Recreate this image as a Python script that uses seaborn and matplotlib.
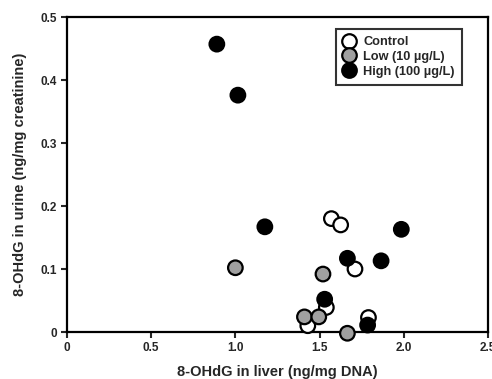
import pandas as pd
import matplotlib
matplotlib.use("Agg")
import matplotlib.pyplot as plt
import seaborn as sns

# Data
control_liver = [1.57, 1.625, 1.71, 1.54, 1.79, 1.43]
control_urine = [0.180, 0.170, 0.100, 0.039, 0.023, 0.010]
low_liver = [1.00, 1.52, 1.41, 1.495, 1.665]
low_urine = [0.102, 0.092, 0.024, 0.024, -0.002]
high_liver = [0.89, 1.015, 1.175, 1.985, 1.665, 1.865, 1.53, 1.785]
high_urine = [0.457, 0.376, 0.167, 0.163, 0.117, 0.113, 0.052, 0.011]

groups = ['Control', 'Low (10 µg/L)', 'High (100 µg/L)']
colors = ['white', '#a0a0a0', 'black']
x_ticks = [0, 0.5, 1.0, 1.5, 2.0, 2.5]
x_labels = ['0', '0.5', '1.0', '1.5', '2.0', '2.5']
y_ticks = [0, 0.1, 0.2, 0.3, 0.4, 0.5]
y_labels = ['0', '0.1', '0.2', '0.3', '0.4', '0.5']

df = pd.DataFrame({
    'liver': control_liver + low_liver + high_liver,
    'urine': control_urine + low_urine + high_urine,
    'group': [groups[0]] * len(control_liver) + [groups[1]] * len(low_liver)
             + [groups[2]] * len(high_liver),
})

sns.set_style('ticks')
plt.rcParams['font.family'] = ['Liberation Sans', 'DejaVu Sans']
plt.rcParams['font.weight'] = 'bold'

fig = plt.figure(figsize=(4.92, 3.79), dpi=100)
ax = fig.add_axes([0.136, 0.124, 0.856, 0.831])

sns.scatterplot(data=df, x='liver', y='urine', hue='group', hue_order=groups,
                palette=dict(zip(groups, colors)), s=110, edgecolor='black',
                linewidth=1.6, ax=ax, zorder=3, clip_on=False)

ax.set_xlim(0, 2.5)
ax.set_ylim(0, 0.5)
ax.set_xticks(x_ticks)
ax.set_xticklabels(x_labels, fontsize=8.5, fontweight='bold')
ax.set_yticks(y_ticks)
ax.set_yticklabels(y_labels, fontsize=8.5, fontweight='bold')
ax.tick_params(direction='out', length=4, width=1.5, pad=3)
for sp in ax.spines.values():
    sp.set_linewidth(1.6)
    sp.set_color('black')

ax.set_xlabel('8-OHdG in liver (ng/mg DNA)', fontsize=10.5, fontweight='bold', labelpad=8)
ax.set_ylabel('8-OHdG in urine (ng/mg creatinine)', fontsize=10.5, fontweight='bold', labelpad=10)

leg = ax.legend(loc='upper right', bbox_to_anchor=(0.938, 0.962), frameon=True,
                fancybox=False, edgecolor='black', fontsize=9.2, handletextpad=0.6,
                borderpad=0.55, labelspacing=0.22, handlelength=1.0, borderaxespad=0,
                markerscale=1.0)
leg.get_frame().set_linewidth(1.5)
for t in leg.get_texts():
    t.set_fontweight('bold')

fig.savefig('out.png', dpi=100)
